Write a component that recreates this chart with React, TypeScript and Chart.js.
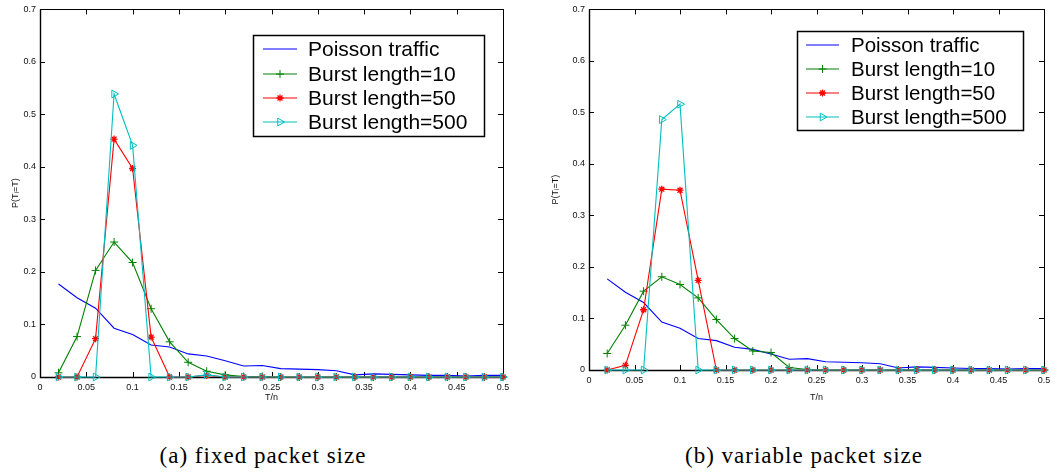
import React, { useEffect, useRef } from 'react';
import { Chart, registerables } from 'chart.js';
import { drawPoint } from 'chart.js/helpers';

Chart.register(...registerables);

// ---------- data ----------
const T_OVER_N = [
  0.02, 0.04, 0.06, 0.08, 0.1, 0.12, 0.14, 0.16, 0.18, 0.2, 0.22, 0.24, 0.26,
  0.28, 0.3, 0.32, 0.34, 0.36, 0.38, 0.4, 0.42, 0.44, 0.46, 0.48, 0.5,
];

const POISSON = [
  0.177, 0.151, 0.131, 0.093, 0.081, 0.061, 0.057, 0.044, 0.04, 0.031, 0.021,
  0.022, 0.016, 0.015, 0.014, 0.012, 0.004, 0.006, 0.005, 0.004, 0.003, 0.003,
  0.002, 0.003, 0.003,
];

const FIXED_BURST10 = [
  0.008, 0.077, 0.203, 0.257, 0.218, 0.13, 0.067, 0.028, 0.011, 0.004, 0.001,
  0.001, 0, 0, 0, 0, 0, 0, 0, 0, 0, 0, 0, 0, 0,
];
const FIXED_BURST50 = [
  0, 0, 0.073, 0.453, 0.397, 0.076, 0, 0, 0.003, 0, 0, 0, 0, 0, 0, 0, 0, 0, 0,
  0, 0, 0, 0, 0, 0,
];
const FIXED_BURST500 = [
  0, 0, 0, 0.539, 0.441, 0, 0, 0, 0.004, 0, 0, 0, 0, 0, 0, 0, 0, 0, 0, 0, 0, 0,
  0, 0, 0,
];

const VAR_BURST10 = [
  0.032, 0.087, 0.153, 0.181, 0.166, 0.14, 0.098, 0.061, 0.037, 0.034, 0.005,
  0.001, 0, 0, 0, 0, 0, 0, 0, 0, 0, 0, 0, 0, 0,
];
const VAR_BURST50 = [
  0, 0.009, 0.117, 0.351, 0.349, 0.174, 0, 0, 0, 0, 0, 0, 0, 0, 0, 0, 0, 0, 0,
  0, 0, 0, 0, 0, 0,
];
const VAR_BURST500 = [
  0, 0, 0, 0.486, 0.516, 0, 0, 0, 0, 0, 0, 0, 0, 0, 0, 0, 0, 0, 0, 0, 0, 0, 0,
  0, 0,
];

const SERIES_LABELS = [
  'Poisson traffic',
  'Burst length=10',
  'Burst length=50',
  'Burst length=500',
];
const X_TITLE = 'T/n';
const Y_TITLE = 'P(T\u1D62=T)';
const CAPTIONS = ['(a) fixed packet size', '(b) variable packet size'];

// ---------- styling ----------
const COLORS = ['#0000ff', '#008000', '#ff0000', '#00bfbf'];
const SANS = '"Liberation Sans", Arial, Helvetica, sans-serif';

type Layout = {
  left: number;
  width: number;
  height: number;
  padRight: number;
  yAxisWidth: number;
  xAxisHeight: number;
  yTitlePad: number;
  legend: { x: number; y: number; w: number; h: number; lineX0: number; lineX1: number; textX: number; rows: number[]; font: number };
};

const fmtTick = (v: number | string) => String(parseFloat(Number(v).toFixed(2)));

function makeDatasets(series: number[][]) {
  const styles = [
    { pointStyle: false as any, radius: 0, borderWidth: 1 },
    { pointStyle: 'cross', radius: 4, borderWidth: 1 },
    { pointStyle: 'star', radius: 3.5, borderWidth: 1.3 },
    { pointStyle: 'triangle', radius: 4.5, borderWidth: 1, rotation: 90 },
  ];
  return series.map((ys, i) => ({
    label: SERIES_LABELS[i],
    data: T_OVER_N.map((x, k) => ({ x, y: ys[k] })),
    borderColor: COLORS[i],
    backgroundColor: i === 3 ? 'rgba(0,0,0,0)' : COLORS[i],
    borderWidth: 1.1,
    pointStyle: styles[i].pointStyle,
    pointRadius: styles[i].radius,
    pointHoverRadius: styles[i].radius,
    pointBorderWidth: styles[i].borderWidth,
    pointBorderColor: COLORS[i],
    pointBackgroundColor: i === 3 ? 'rgba(0,0,0,0)' : COLORS[i],
    pointRotation: (styles[i] as any).rotation || 0,
    tension: 0,
    clip: false as any,
    order: 4 - i,
  }));
}

function Panel({ series, layout }: { series: number[][]; layout: Layout }) {
  const ref = useRef<HTMLCanvasElement | null>(null);

  useEffect(() => {
    if (!ref.current) return;
    const L = layout;
    const framePlugin = {
      id: 'matlabFrame',
      beforeDatasetsDraw(chart: any) {
        const { ctx, chartArea } = chart;
        const { left, right, top, bottom } = chartArea;
        const xs = chart.scales.x;
        const ys = chart.scales.y;
        ctx.save();
        ctx.strokeStyle = '#000';
        ctx.lineWidth = 1;
        ctx.strokeRect(Math.round(left) + 0.5, Math.round(top) + 0.5, Math.round(right - left), Math.round(bottom - top));
        ctx.lineWidth = 1.4;
        ctx.beginPath();
        ctx.moveTo(Math.round(left) + 0.5, top);
        ctx.lineTo(Math.round(left) + 0.5, bottom + 0.5);
        ctx.lineTo(right, bottom + 0.5);
        ctx.stroke();
        ctx.lineWidth = 1;
        const tl = 5;
        ctx.beginPath();
        xs.ticks.forEach((t: any) => {
          const px = Math.round(xs.getPixelForValue(t.value)) + 0.5;
          ctx.moveTo(px, bottom);
          ctx.lineTo(px, bottom - tl);
          ctx.moveTo(px, top);
          ctx.lineTo(px, top + tl);
        });
        ys.ticks.forEach((t: any) => {
          const py = Math.round(ys.getPixelForValue(t.value)) + 0.5;
          ctx.moveTo(left, py);
          ctx.lineTo(left + tl, py);
          ctx.moveTo(right, py);
          ctx.lineTo(right - tl, py);
        });
        ctx.stroke();
        ctx.restore();
      },
      afterDraw(chart: any) {
        const { ctx } = chart;
        const lg = L.legend;
        ctx.save();
        ctx.fillStyle = '#fff';
        ctx.fillRect(lg.x, lg.y, lg.w, lg.h);
        ctx.strokeStyle = '#000';
        ctx.lineWidth = 1.5;
        ctx.strokeRect(lg.x + 0.5, lg.y + 0.5, lg.w, lg.h);
        chart.data.datasets.forEach((ds: any, i: number) => {
          const y = lg.rows[i];
          ctx.strokeStyle = ds.borderColor;
          ctx.lineWidth = 1.2;
          ctx.beginPath();
          ctx.moveTo(lg.lineX0, y);
          ctx.lineTo(lg.lineX1, y);
          ctx.stroke();
          if (ds.pointStyle) {
            ctx.fillStyle = ds.pointBackgroundColor;
            ctx.strokeStyle = ds.pointBorderColor;
            ctx.lineWidth = ds.pointBorderWidth;
            drawPoint(
              ctx,
              {
                pointStyle: ds.pointStyle,
                rotation: ds.pointRotation,
                radius: ds.pointRadius,
                borderWidth: ds.pointBorderWidth,
              } as any,
              (lg.lineX0 + lg.lineX1) / 2,
              y
            );
          }
          ctx.fillStyle = '#000';
          ctx.font = `${lg.font}px ${SANS}`;
          ctx.textBaseline = 'middle';
          ctx.textAlign = 'left';
          ctx.fillText(ds.label, lg.textX, y + 1);
        });
        ctx.restore();
      },
    };

    const chart = new Chart(ref.current, {
      type: 'line',
      data: { datasets: makeDatasets(series) as any },
      options: {
        animation: false,
        responsive: false,
        events: [],
        layout: { padding: { top: 7, right: L.padRight, left: 0, bottom: 0 } },
        plugins: { legend: { display: false }, tooltip: { enabled: false } },
        scales: {
          x: {
            type: 'linear',
            min: 0,
            max: 0.5,
            border: { display: false },
            grid: { display: false, drawTicks: false, tickLength: 0 },
            ticks: {
              stepSize: 0.05,
              autoSkip: false,
              maxRotation: 0,
              padding: 5,
              color: '#111',
              font: { family: SANS, size: 9 },
              callback: (v: any) => fmtTick(v),
            },
            title: {
              display: true,
              text: X_TITLE,
              color: '#111',
              font: { family: SANS, size: 9 },
              padding: { top: 0, bottom: 1 },
            },
            afterFit: (s: any) => {
              s.height = L.xAxisHeight;
            },
          },
          y: {
            type: 'linear',
            min: 0,
            max: 0.7,
            border: { display: false },
            grid: { display: false, drawTicks: false, tickLength: 0 },
            ticks: {
              stepSize: 0.1,
              padding: 4,
              color: '#111',
              font: { family: SANS, size: 9 },
              callback: (v: any) => fmtTick(v),
            },
            title: {
              display: true,
              text: Y_TITLE,
              color: '#111',
              font: { family: SANS, size: 9 },
              padding: { top: L.yTitlePad, bottom: 0 },
            },
            afterFit: (s: any) => {
              s.width = L.yAxisWidth;
            },
          },
        },
      } as any,
      plugins: [framePlugin],
    });
    return () => chart.destroy();
  }, [series, layout]);

  return (
    <canvas
      ref={ref}
      width={layout.width}
      height={layout.height}
      style={{ position: 'absolute', left: layout.left, top: 0, display: 'block' }}
    />
  );
}

const LAYOUT_A: Layout = {
  left: 0,
  width: 530,
  height: 404,
  padRight: 27,
  yAxisWidth: 40,
  xAxisHeight: 27,
  yTitlePad: 10,
  legend: { x: 253, y: 35, w: 231, h: 101, lineX0: 263, lineX1: 297, textX: 308, rows: [49, 74, 98, 122], font: 21 },
};

const LAYOUT_B: Layout = {
  left: 530,
  width: 529,
  height: 404,
  padRight: 15,
  yAxisWidth: 59,
  xAxisHeight: 34,
  yTitlePad: 20,
  legend: { x: 267, y: 31, w: 226, h: 99, lineX0: 276, lineX1: 309, textX: 321, rows: [45, 69, 93, 117], font: 20.5 },
};

const SERIES_A = [POISSON, FIXED_BURST10, FIXED_BURST50, FIXED_BURST500];
const SERIES_B = [POISSON, VAR_BURST10, VAR_BURST50, VAR_BURST500];

export default function App() {
  const captionStyle: React.CSSProperties = {
    position: 'absolute',
    top: 443,
    width: 400,
    textAlign: 'center',
    fontFamily: '"Liberation Serif", "Times New Roman", serif',
    fontSize: 23,
    letterSpacing: 1,
    lineHeight: '26px',
    color: '#000',
    whiteSpace: 'nowrap',
  };
  return (
    <div style={{ position: 'absolute', left: 0, top: 0, width: 1059, height: 475, background: '#fff', overflow: 'hidden' }}>
      <Panel series={SERIES_A} layout={LAYOUT_A} />
      <Panel series={SERIES_B} layout={LAYOUT_B} />
      <div style={{ ...captionStyle, left: 263 - 200 }}>{CAPTIONS[0]}</div>
      <div style={{ ...captionStyle, left: 804 - 200 }}>{CAPTIONS[1]}</div>
    </div>
  );
}
